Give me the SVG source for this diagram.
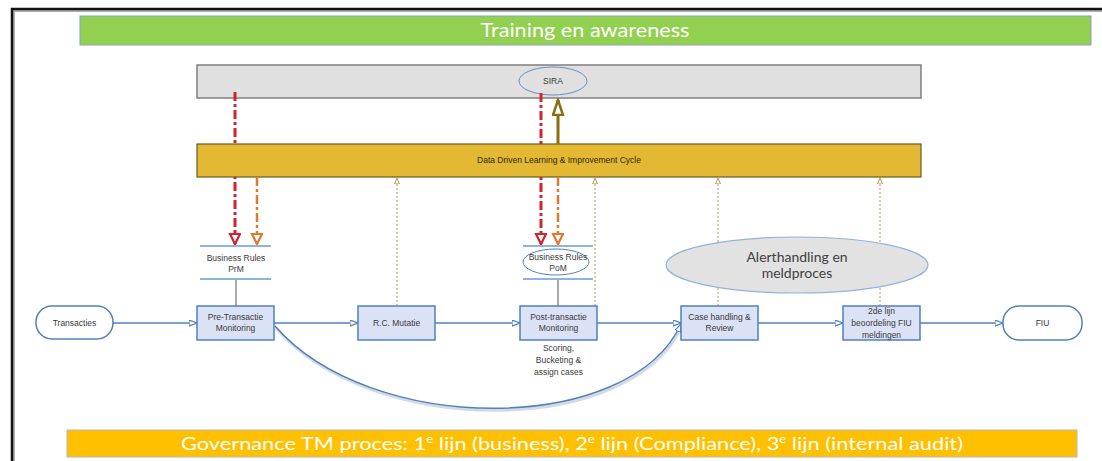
<svg xmlns="http://www.w3.org/2000/svg" width="1102" height="461" viewBox="0 0 1102 461">
<style>
.lbl{font-family:"Liberation Sans",Arial,sans-serif;font-size:8.5px;fill:#3a3a3a;text-anchor:middle}
.big{font-family:Lato,"Open Sans",sans-serif;fill:#ffffff;text-anchor:middle}
.box{fill:#dbe2f6;stroke:#4f81bd;stroke-width:1.5}
.flow{fill:none;stroke:#4f81bd;stroke-width:1.5}
.dot{stroke:#b8964a;stroke-width:1;stroke-dasharray:2,2;fill:none}
.red{stroke:#d2232f;stroke-width:3;stroke-dasharray:9,3,3,3;fill:none}
.orn{stroke:#dd7a2c;stroke-width:2.5;stroke-dasharray:9,3,3,3;fill:none}
.br{stroke:#8fb3de;stroke-width:2}
</style>
<defs>
<marker id="fa" markerUnits="userSpaceOnUse" markerWidth="10" markerHeight="8" refX="8" refY="3.5" orient="auto"><path d="M0,0.5 L8,3.5 L0,6.5 z" fill="#fff" stroke="#4f81bd" stroke-width="1.2"/></marker>
<marker id="ra" markerUnits="userSpaceOnUse" markerWidth="14" markerHeight="14" refX="11" refY="6" orient="auto"><path d="M1,1 L11,6 L1,11 z" fill="#fff" stroke="#d2232f" stroke-width="2.2"/></marker>
<marker id="oa" markerUnits="userSpaceOnUse" markerWidth="14" markerHeight="14" refX="11" refY="6" orient="auto"><path d="M1,1 L11,6 L1,11 z" fill="#fff" stroke="#dd7a2c" stroke-width="2.2"/></marker>
<marker id="ua" markerUnits="userSpaceOnUse" markerWidth="18" markerHeight="14" refX="16" refY="6" orient="auto"><path d="M1,1 L16,6 L1,11 z" fill="#fff" stroke="#8b6d14" stroke-width="2.5"/></marker>
<marker id="da" markerUnits="userSpaceOnUse" markerWidth="8" markerHeight="8" refX="6" refY="3" orient="auto"><path d="M0,0.5 L6,3 L0,5.5 z" fill="#fff" stroke="#b8964a" stroke-width="1"/></marker>
</defs>

<!-- frame -->
<path d="M14,461 V11 H1102" fill="none" stroke="#b0b0b0" stroke-width="2"/>
<path d="M12,461 V9 H1102" fill="none" stroke="#111" stroke-width="2.5"/>

<g id="training">
<rect x="80" y="16" width="1011" height="29" fill="#92d050" stroke="#8aa4b8" stroke-width="1"/>
<text class="big" x="585" y="37" font-size="19" textLength="209" lengthAdjust="spacingAndGlyphs">Training en awareness</text>
</g>

<g id="governance">
<rect x="67" y="430" width="1010" height="27" fill="#ffc000" stroke="#b8b8b8" stroke-width="1"/>
<text class="big" x="572" y="450" font-size="18" textLength="782" lengthAdjust="spacingAndGlyphs">Governance TM proces: 1<tspan font-size="11" dy="-7">e</tspan><tspan dy="7"> lijn (business), 2</tspan><tspan font-size="11" dy="-7">e</tspan><tspan dy="7"> lijn (Compliance), 3</tspan><tspan font-size="11" dy="-7">e</tspan><tspan dy="7"> lijn (internal audit)</tspan></text>
</g>

<g id="sira-bar">
<rect x="197" y="65" width="724" height="33" fill="#e0e0e0" stroke="#7f7f7f" stroke-width="1.5"/>
</g>
<g id="sira">
<ellipse cx="553" cy="81" rx="34" ry="14" fill="none" stroke="#6a8fbf" stroke-width="1"/>
<text class="lbl" x="553" y="84">SIRA</text>
</g>

<g id="connectors-under">
<line class="red" x1="235" y1="92" x2="235" y2="244" marker-end="url(#ra)"/>
<line class="red" x1="541" y1="93" x2="541" y2="244" marker-end="url(#ra)"/>
</g>

<g id="ddlic">
<rect x="197" y="144" width="724" height="33" fill="#e3b833" stroke="#6b5a22" stroke-width="1.2"/>
<text class="lbl" x="559" y="163" style="fill:#2a2a10">Data Driven Learning &amp; Improvement Cycle</text>
</g>

<g id="connectors">
<line x1="558" y1="144" x2="558" y2="100" stroke="#8b6d14" stroke-width="3" marker-end="url(#ua)"/>
<line class="orn" x1="257" y1="177" x2="257" y2="244" marker-end="url(#oa)"/>
<line class="orn" x1="558" y1="177" x2="558" y2="244" marker-end="url(#oa)"/>
<line class="dot" x1="397" y1="306" x2="397" y2="178" marker-end="url(#da)"/>
<line class="dot" x1="595" y1="306" x2="595" y2="178" marker-end="url(#da)"/>
<line class="dot" x1="718" y1="306" x2="718" y2="178" marker-end="url(#da)"/>
<line class="dot" x1="880" y1="306" x2="880" y2="178" marker-end="url(#da)"/>
<line x1="236" y1="279" x2="236" y2="306" stroke="#555" stroke-width="1"/>
<line x1="558" y1="279" x2="558" y2="306" stroke="#555" stroke-width="1"/>
<line class="flow" x1="113" y1="323" x2="197" y2="323" marker-end="url(#fa)"/>
<line class="flow" x1="274" y1="323" x2="358" y2="323" marker-end="url(#fa)"/>
<line class="flow" x1="435" y1="323" x2="520" y2="323" marker-end="url(#fa)"/>
<line class="flow" x1="597" y1="323" x2="681" y2="323" marker-end="url(#fa)"/>
<line class="flow" x1="758" y1="323" x2="843" y2="323" marker-end="url(#fa)"/>
<line class="flow" x1="920" y1="323" x2="1003" y2="323" marker-end="url(#fa)"/>
<path d="M275,326 C370,436 630,436 681,324" fill="none" stroke="#d3dae4" stroke-width="3" transform="translate(1,2)"/>
<path class="flow" d="M275,326 C370,436 630,436 681,324" marker-end="url(#fa)"/>
</g>

<g id="br-prm">
<line class="br" x1="200" y1="246" x2="271" y2="246"/>
<line class="br" x1="200" y1="279" x2="271" y2="279"/>
<text class="lbl" x="236" y="261">Business Rules</text>
<text class="lbl" x="236" y="272">PrM</text>
</g>

<g id="br-pom">
<line class="br" x1="523" y1="246" x2="593" y2="246"/>
<line class="br" x1="523" y1="279" x2="593" y2="279"/>
<ellipse cx="556" cy="262" rx="33" ry="13" fill="#fff" stroke="#4f81bd" stroke-width="1"/>
<text class="lbl" x="558" y="260">Business Rules</text>
<text class="lbl" x="558" y="271">PoM</text>
</g>

<g id="alert">
<ellipse cx="797" cy="265" rx="131" ry="28" fill="#e2e2e2" stroke="#8fb3de" stroke-width="1.2"/>
<text x="797" y="262" font-family="Lato,'Open Sans',sans-serif" font-size="14" fill="#404040" text-anchor="middle">Alerthandling en</text>
<text x="797" y="278" font-family="Lato,'Open Sans',sans-serif" font-size="14" fill="#404040" text-anchor="middle">meldproces</text>
</g>

<g id="transacties">
<rect x="36" y="306" width="77" height="33" rx="16" fill="#fff" stroke="#4f81bd" stroke-width="1.5"/>
<text class="lbl" x="74.5" y="326">Transacties</text>
</g>
<g id="pre-transactie">
<rect class="box" x="197" y="306" width="77" height="34"/>
<text class="lbl" x="235.5" y="320">Pre-Transactie</text>
<text class="lbl" x="235.5" y="331">Monitoring</text>
</g>
<g id="rc-mutatie">
<rect class="box" x="358" y="306" width="77" height="34"/>
<text class="lbl" x="396.5" y="326">R.C. Mutatie</text>
</g>
<g id="post-transactie">
<rect class="box" x="520" y="306" width="77" height="34"/>
<text class="lbl" x="558.5" y="320">Post-transactie</text>
<text class="lbl" x="558.5" y="331">Monitoring</text>
<text class="lbl" x="558.5" y="351">Scoring,</text>
<text class="lbl" x="558.5" y="363">Bucketing &amp;</text>
<text class="lbl" x="558.5" y="375">assign cases</text>
</g>
<g id="case-handling">
<rect class="box" x="681" y="306" width="77" height="34"/>
<text class="lbl" x="719.5" y="320">Case handling &amp;</text>
<text class="lbl" x="719.5" y="331">Review</text>
</g>
<g id="tweede-lijn">
<rect class="box" x="843" y="306" width="77" height="34"/>
<text class="lbl" x="881.5" y="314">2de lijn</text>
<text class="lbl" x="881.5" y="326">beoordeling FIU</text>
<text class="lbl" x="881.5" y="338">meldingen</text>
</g>
<g id="fiu">
<rect x="1003" y="306" width="79" height="34" rx="16" fill="#fff" stroke="#4f81bd" stroke-width="1.5"/>
<text class="lbl" x="1042.5" y="326">FIU</text>
</g>
</svg>
